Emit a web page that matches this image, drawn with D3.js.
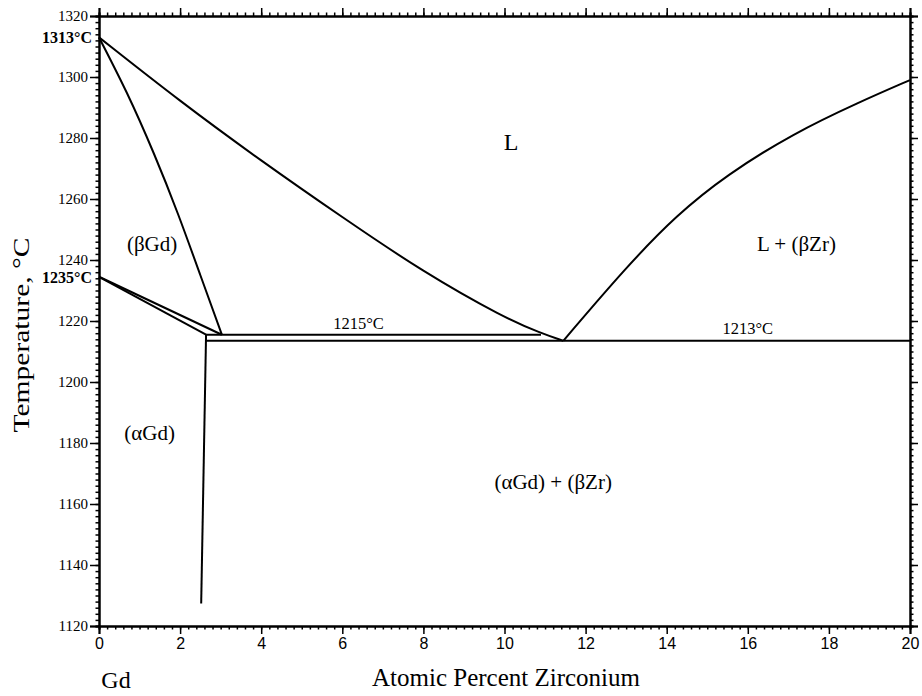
<!DOCTYPE html>
<html>
<head>
<meta charset="utf-8">
<script src="https://cdn.jsdelivr.net/npm/d3@7"></script>
<style>
  html, body { margin: 0; padding: 0; background: #fff; }
  svg { display: block; }
  text { fill: #000; }
</style>
</head>
<body>
<svg id="chart" width="922" height="696"></svg>
<script>
// ---- data ----
const xTicks = [0, 2, 4, 6, 8, 10, 12, 14, 16, 18, 20];
const yTicks = [1120, 1140, 1160, 1180, 1200, 1220, 1240, 1260, 1280, 1300, 1320];

// Liquidus from Gd melting point to eutectic
const liquidusGd = [[0, 1313], [2, 1292], [4, 1272.5], [6, 1254], [8, 1236], [10, 1221], [10.9, 1216], [11.45, 1213.5]];
// (betaGd) solidus
const solidusBetaGd = [[0, 1313], [0.68, 1295], [1.35, 1275], [1.95, 1255], [2.5, 1235], [3.03, 1215.5]];
// Liquidus on the Zr side
const liquidusZr = [[11.45, 1213.5], [13.01, 1237.8], [14.25, 1254.8], [15.48, 1267.9], [17.12, 1281.5], [18.77, 1291.9], [20, 1299]];
// (betaGd)/(alphaGd) transformation lines
const transUpper = [[0, 1234.5], [3.03, 1215.5]];
const transLower = [[0, 1234.5], [2.64, 1215.5]];
// invariant lines
const line1215 = [[2.64, 1215.5], [10.9, 1215.5]];
const line1213 = [[2.64, 1213.5], [20, 1213.5]];
// (alphaGd) solvus
const solvusAlphaGd = [[2.64, 1215.5], [2.52, 1127.4]];

const phaseLabels = [
  { text: "L", x: 10.16, y: 1276, size: 24 },
  { text: "(βGd)", x: 1.31, y: 1243, size: 21 },
  { text: "L + (βZr)", x: 17.2, y: 1243, size: 21 },
  { text: "(αGd)", x: 1.25, y: 1181, size: 21 },
  { text: "(αGd) + (βZr)", x: 11.2, y: 1165, size: 21 },
  { text: "1215°C", x: 6.4, y: 1217.5, size: 16.5 },
  { text: "1213°C", x: 16.0, y: 1215.6, size: 16.5 }
];
const boldLabels = [{ text: "1313°C", y: 1313 }, { text: "1235°C", y: 1234.5 }];

// ---- layout ----
const svg = d3.select("#chart");
const L = 99, R = 910, T = 16, B = 626;
const x = d3.scaleLinear().domain([0, 20]).range([L, R]);
const y = d3.scaleLinear().domain([1120, 1320]).range([B, T]);

const serif = "'Liberation Serif', 'Times New Roman', serif";
const sans = "'Liberation Sans', Arial, sans-serif";

const xMinor = d3.range(0, 20.001, 0.2).map(v => +v.toFixed(2));
const yMinor = d3.range(1120, 1320.001, 2);

function styleAxis(g) {
  g.select(".domain").attr("stroke", "#000").attr("stroke-width", 2);
  g.selectAll(".tick line").attr("stroke", "#000").attr("stroke-width", 1.5);
}

// minor ticks
svg.append("g").attr("transform", `translate(0,${B})`)
  .call(d3.axisBottom(x).tickValues(xMinor).tickSize(3.5).tickFormat(""))
  .call(styleAxis);
svg.append("g").attr("transform", `translate(0,${T})`)
  .call(d3.axisTop(x).tickValues(xMinor).tickSize(3.5).tickFormat(""))
  .call(styleAxis);
svg.append("g").attr("transform", `translate(${L},0)`)
  .call(d3.axisLeft(y).tickValues(yMinor).tickSize(3.5).tickFormat(""))
  .call(styleAxis);
svg.append("g").attr("transform", `translate(${R},0)`)
  .call(d3.axisRight(y).tickValues(yMinor).tickSize(3.5).tickFormat(""))
  .call(styleAxis);

// major ticks
const xb = svg.append("g").attr("transform", `translate(0,${B})`)
  .call(d3.axisBottom(x).tickValues(xTicks).tickSize(8).tickPadding(4).tickFormat(d3.format("d")))
  .call(styleAxis);
xb.selectAll("text").attr("font-family", sans).attr("font-size", 16).attr("fill", "#000");
svg.append("g").attr("transform", `translate(0,${T})`)
  .call(d3.axisTop(x).tickValues(xTicks).tickSize(8).tickFormat(""))
  .call(styleAxis);
const yl = svg.append("g").attr("transform", `translate(${L},0)`)
  .call(d3.axisLeft(y).tickValues(yTicks).tickSize(9).tickPadding(2).tickFormat(d3.format("d")))
  .call(styleAxis);
yl.selectAll("text").attr("font-family", serif).attr("font-size", 15).attr("fill", "#000");
svg.append("g").attr("transform", `translate(${R},0)`)
  .call(d3.axisRight(y).tickValues(yTicks).tickSize(8).tickFormat(""))
  .call(styleAxis);

// curves
const smooth = d3.line().x(d => x(d[0])).y(d => y(d[1])).curve(d3.curveBasis);
const natural = d3.line().x(d => x(d[0])).y(d => y(d[1])).curve(d3.curveNatural);
const straight = d3.line().x(d => x(d[0])).y(d => y(d[1]));
const curves = svg.append("g").attr("fill", "none").attr("stroke", "#000").attr("stroke-width", 2);
[liquidusGd, liquidusZr].forEach(d => curves.append("path").attr("d", smooth(d)));
curves.append("path").attr("d", natural(solidusBetaGd));
[transUpper, transLower, line1215, line1213, solvusAlphaGd].forEach(d => curves.append("path").attr("d", straight(d)));

// phase labels
svg.append("g").selectAll("text").data(phaseLabels).join("text")
  .attr("x", d => x(d.x)).attr("y", d => y(d.y))
  .attr("text-anchor", "middle")
  .attr("font-family", serif)
  .attr("font-size", d => d.size)
  .text(d => d.text);

// bold annotations on the y axis
svg.append("g").selectAll("text").data(boldLabels).join("text")
  .attr("x", L - 7).attr("y", d => y(d.y)).attr("dy", "0.38em")
  .attr("text-anchor", "end")
  .attr("font-family", serif).attr("font-weight", "bold").attr("font-size", 16)
  .text(d => d.text);

// axis titles
svg.append("text")
  .attr("transform", `translate(29,335) rotate(-90)`)
  .attr("text-anchor", "middle")
  .attr("font-family", serif).attr("font-size", 24)
  .attr("textLength", 195).attr("lengthAdjust", "spacingAndGlyphs")
  .text("Temperature, °C");
svg.append("text")
  .attr("x", 506).attr("y", 686)
  .attr("text-anchor", "middle")
  .attr("font-family", serif).attr("font-size", 25)
  .text("Atomic Percent Zirconium");
svg.append("text")
  .attr("x", 116).attr("y", 688)
  .attr("text-anchor", "middle")
  .attr("font-family", serif).attr("font-size", 24)
  .text("Gd");
</script>
</body>
</html>
